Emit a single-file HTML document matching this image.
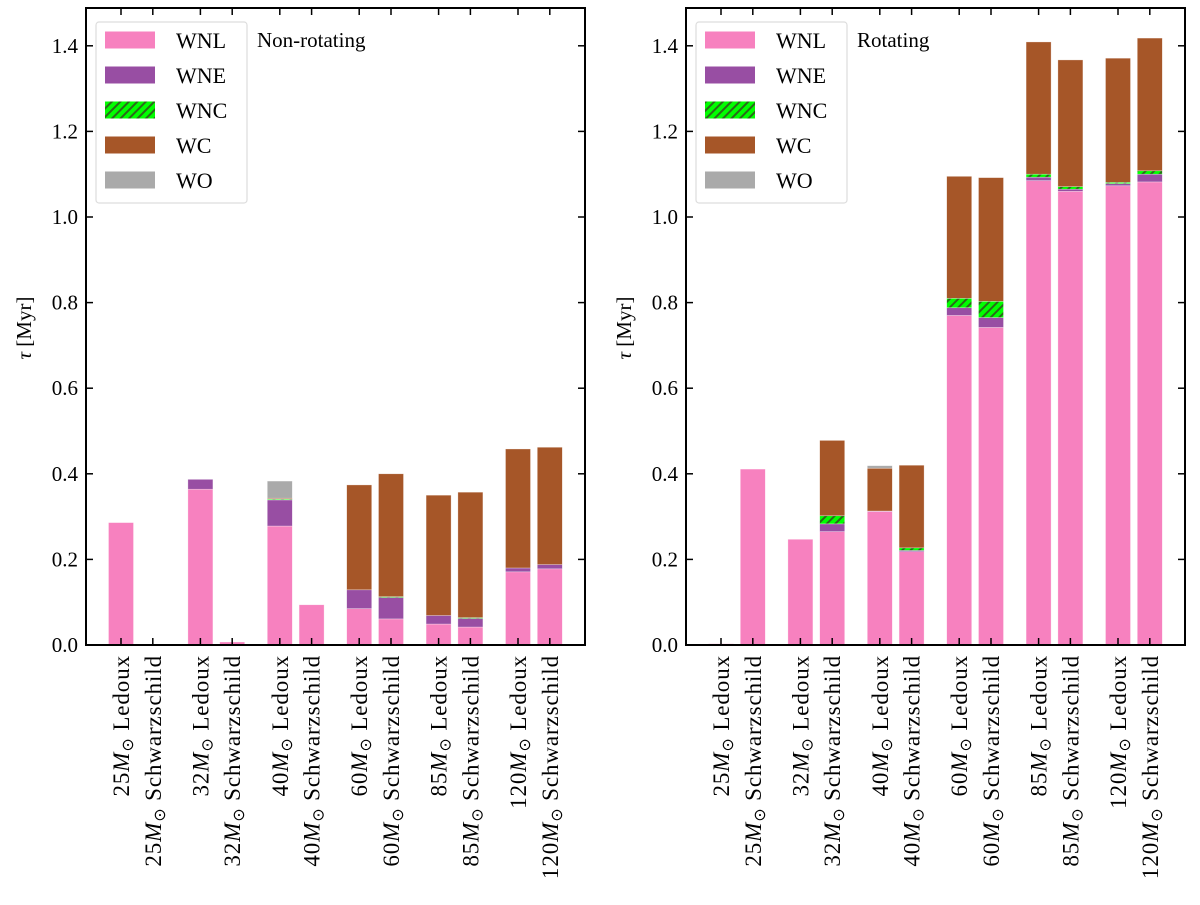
<!DOCTYPE html>
<html><head><meta charset="utf-8"><style>
body{margin:0;background:#fff}
svg text{font-family:"Liberation Serif",serif;fill:#000}
</style></head><body>
<svg id="chart" width="1200" height="900" xmlns="http://www.w3.org/2000/svg">
<defs>
<pattern id="hatch" patternUnits="userSpaceOnUse" width="6" height="6" patternTransform="rotate(45)">
<rect width="6" height="6" fill="#00ff00"/><rect width="2" height="6" fill="#2a6a1a"/>
</pattern>
</defs>
</svg>
<script>
const categories=["25M Ledoux","25M Schwarzschild","32M Ledoux","32M Schwarzschild","40M Ledoux","40M Schwarzschild","60M Ledoux","60M Schwarzschild","85M Ledoux","85M Schwarzschild","120M Ledoux","120M Schwarzschild"];
const masses=["25","25","32","32","40","40","60","60","85","85","120","120"];
const schemes=["Ledoux","Schwarzschild","Ledoux","Schwarzschild","Ledoux","Schwarzschild","Ledoux","Schwarzschild","Ledoux","Schwarzschild","Ledoux","Schwarzschild"];
const phases=["WNL","WNE","WNC","WC","WO"];
// durations in Myr per phase (non-rotating)
const nrWNL=[0.286,0,0.364,0.007,0.278,0.094,0.085,0.061,0.049,0.042,0.171,0.178];
const nrWNE=[0,0,0.023,0,0.061,0,0.044,0.050,0.020,0.020,0.009,0.010];
const nrWNC=[0,0,0,0,0.002,0,0,0.002,0,0.002,0,0];
const nrWC =[0,0,0,0,0.002,0,0.245,0.287,0.281,0.293,0.278,0.274];
const nrWO =[0,0,0,0,0.040,0,0,0,0,0,0,0];
// rotating
const rWNL=[0.003,0.411,0.247,0.265,0.312,0.218,0.770,0.742,1.085,1.060,1.073,1.082];
const rWNE=[0,0,0,0.018,0.001,0.003,0.018,0.023,0.008,0.005,0.005,0.018];
const rWNC=[0,0,0,0.019,0,0.006,0.022,0.038,0.007,0.006,0.003,0.008];
const rWC =[0,0,0,0.176,0.100,0.193,0.285,0.289,0.309,0.296,0.290,0.310];
const rWO =[0,0,0,0,0.006,0,0,0,0,0,0,0];
const yTicks=[0,0.2,0.4,0.6,0.8,1.0,1.2,1.4];
const colors={WNL:"#f781bf",WNE:"#984ea3",WNC:"url(#hatch)",WC:"#a65628",WO:"#aaaaaa"};
const svg=document.getElementById('chart');
const NS="http://www.w3.org/2000/svg";
function mk(tag,attrs,parent){const e=document.createElementNS(NS,tag);for(const k in attrs)e.setAttribute(k,attrs[k]);(parent||svg).appendChild(e);return e;}
const top0=8,bot=645;
function yScale(v){return bot-v*428;}
function xScale(i,left){const g=Math.floor(i/2);return left+35+g*79.4+(i%2)*31.8;}
function panel(left,title,series,name){
  const right=left+499;
  const g=mk('g',{});
  
  
  for(let i=0;i<categories.length;i++){
    let acc=0;const cx=xScale(i,left);
    series.forEach((s,k)=>{const v=s[i];if(v<=0)return;
      const r=mk('rect',{x:cx-12.5,y:yScale(acc+v),width:25,height:v*428,fill:colors[phases[k]],stroke:'rgba(255,255,255,0.5)','stroke-width':0.6},g);
      
      
      acc+=v;});
  }
  const fr=mk('rect',{x:left,y:top0,width:right-left,height:bot-top0,fill:'none',stroke:'#000','stroke-width':2},g);
  
  
  yTicks.forEach(t=>{const y=yScale(t);
    mk('line',{x1:left,x2:left+7,y1:y,y2:y,stroke:'#000','stroke-width':1.5},g);
    mk('line',{x1:right,x2:right-7,y1:y,y2:y,stroke:'#000','stroke-width':1.5},g);
    const tx=mk('text',{x:left-8,y:y+7,'text-anchor':'end','font-size':21},g);tx.textContent=t.toFixed(1);
    
    
  });
  for(let i=0;i<categories.length;i++){const cx=xScale(i,left);
    mk('line',{x1:cx,x2:cx,y1:bot,y2:bot-7,stroke:'#000','stroke-width':1.5},g);
    mk('line',{x1:cx,x2:cx,y1:top0,y2:top0+7,stroke:'#000','stroke-width':1.5},g);
    const t=mk('text',{transform:`translate(${cx+8},655) rotate(-90)`,'text-anchor':'end','font-size':23,'letter-spacing':'0.9'},g);
    t.innerHTML=`${masses[i]}<tspan font-style="italic">M</tspan><tspan font-size="16" dy="4">⊙</tspan><tspan dy="-4"> ${schemes[i]}</tspan>`;
    
    
  }
  const yl=mk('text',{transform:`translate(${left-55},328) rotate(-90)`,'text-anchor':'middle','font-size':21},g);
  yl.innerHTML='<tspan font-style="italic">τ</tspan> [Myr]';
  
  
  const lg=mk('g',{},g);
  
  
  mk('rect',{x:left+10,y:22,width:151,height:181,rx:3,fill:'#fff',stroke:'#ddd','stroke-width':1.2},lg);
  phases.forEach((p,k)=>{const y=40+k*35;
    const r=mk('rect',{x:left+19,y:y-8.5,width:50,height:17,fill:colors[p]},lg);
    
    
    const t=mk('text',{x:left+90,y:y+8,'font-size':22},lg);t.textContent=p;
    
    
  });
  const tt=mk('text',{x:left+171,y:47,'font-size':21},g);tt.textContent=title;
  
  
}
panel(86,"Non-rotating",[nrWNL,nrWNE,nrWNC,nrWC,nrWO],"non-rotating-panel");
panel(686,"Rotating",[rWNL,rWNE,rWNC,rWC,rWO],"rotating-panel");
</script>
</body></html>
